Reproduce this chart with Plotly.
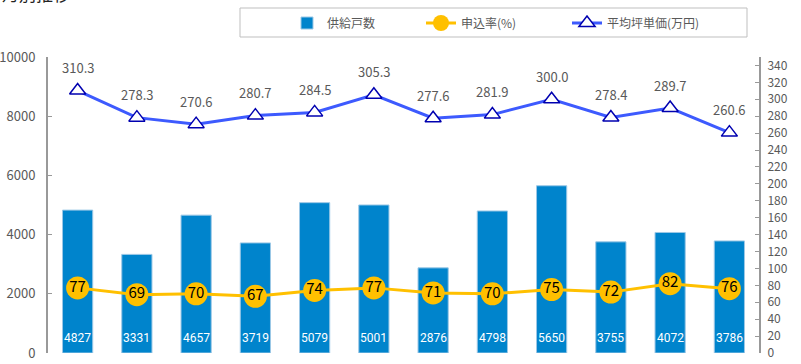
import plotly.graph_objects as go

categories = ["1月", "2月", "3月", "4月", "5月", "6月", "7月", "8月", "9月", "10月", "11月", "12月"]
supply_units = [4827, 3331, 4657, 3719, 5079, 5001, 2876, 4798, 5650, 3755, 4072, 3786]
contract_rate = [77, 69, 70, 67, 74, 77, 71, 70, 75, 72, 82, 76]
avg_price = [310.3, 278.3, 270.6, 280.7, 284.5, 305.3, 277.6, 281.9, 300.0, 278.4, 289.7, 260.6]

FONT = "Noto Sans CJK JP, Noto Sans, sans-serif"
W, H = 801, 364
OFF = 0  # body margin removed by post_script
# desired plot area in page pixels: x 48..759, y 57..353
PL, PR, PT, PB = 48, 759, 57, 353
ML, MT = PL - OFF, PT - OFF
PW, PH = PR - PL, PB - PT
MR, MB = W - ML - PW, H - MT - PH


def px(x):
    return (x - PL) / PW


def py(y):
    return (PB - y) / PH


def cx(x):
    return (x - OFF) / W


def cy(y):
    return 1 - (y - OFF) / H


fig = go.Figure()
fig.add_trace(go.Bar(
    x=categories, y=supply_units, name="供給戸数", legend="legend",
    marker=dict(color="#0084CC", line=dict(color="#9CC8E6", width=1)),
    width=0.51,
))
fig.add_trace(go.Scatter(
    x=categories, y=contract_rate, name="申込率(%)", yaxis="y2", legend="legend2",
    mode="lines+markers+text",
    line=dict(color="#FFC000", width=3),
    marker=dict(size=23, color="#FFC000", line=dict(width=0)),
    text=[str(v) for v in contract_rate], textposition="middle center",
    textfont=dict(color="black", size=15, family=FONT),
    cliponaxis=False,
))
fig.add_trace(go.Scatter(
    x=categories, y=avg_price, name="平均坪単価(万円)", yaxis="y2", legend="legend3",
    mode="lines+markers",
    line=dict(color="#3D5AFE", width=3),
    marker=dict(symbol="triangle-up", size=14, color="white",
                line=dict(color="#0000B0", width=1.5)),
    cliponaxis=False,
))

annotations = [dict(text="月別推移", xref="paper", yref="paper",
                    x=px(0), y=py(8), xanchor="left", yanchor="bottom",
                    showarrow=False, font=dict(size=17, color="#222222", family=FONT))]
for c, v in zip(categories, supply_units):
    annotations.append(dict(x=c, y=0, xref="x", yref="y", text=str(v), showarrow=False,
                            xanchor="center", yanchor="middle", yshift=15,
                            font=dict(color="white", size=12,
                                      family="Liberation Sans Narrow, Roboto, sans-serif")))
for c, v in zip(categories, avg_price):
    annotations.append(dict(x=c, y=v, xref="x", yref="y2", text=f"{v:.1f}", showarrow=False,
                            xanchor="center", yanchor="middle", yshift=23,
                            font=dict(color="#595959", size=13, family=FONT)))

leg_common = dict(orientation="h", xref="container", yref="container",
                  xanchor="left", yanchor="middle",
                  font=dict(size=12, color="#595959", family=FONT),
                  bgcolor="rgba(0,0,0,0)")

fig.update_layout(
    width=W, height=H,
    margin=dict(l=ML, r=MR, t=MT, b=MB, autoexpand=False),
    paper_bgcolor="white", plot_bgcolor="white",
    font=dict(family=FONT, color="#595959"),
    xaxis=dict(range=[-0.5, 11.5], showticklabels=False, showline=False,
               ticks="", showgrid=False, zeroline=False, fixedrange=True),
    yaxis=dict(range=[0, 10000], dtick=2000, tickformat="d", showgrid=False, zeroline=False,
               showline=True, linecolor="#999999", linewidth=2,
               ticks="inside", ticklen=4, tickcolor="#999999",
               tickfont=dict(size=13, color="#595959"), ticklabelstandoff=8),
    yaxis2=dict(range=[0, 350], dtick=20, overlaying="y", side="right",
                showgrid=False, zeroline=False,
                showline=True, linecolor="#999999", linewidth=2,
                ticks="inside", ticklen=4, tickcolor="#999999",
                tickfont=dict(size=12, color="#595959"), ticklabelstandoff=4),
    showlegend=True,
    legend=dict(x=cx(287), y=cy(23), **leg_common),
    legend2=dict(x=cx(421), y=cy(23), **leg_common),
    legend3=dict(x=cx(567), y=cy(23), **leg_common),
    shapes=[dict(type="rect", xref="paper", yref="paper",
                 x0=px(240), x1=px(747), y0=py(37), y1=py(8),
                 line=dict(color="#BFBFBF", width=1), fillcolor="rgba(0,0,0,0)")],
    annotations=annotations,
)

fig.write_html("out.html", config={"displayModeBar": False},
               post_script="document.body.style.margin='0';")
